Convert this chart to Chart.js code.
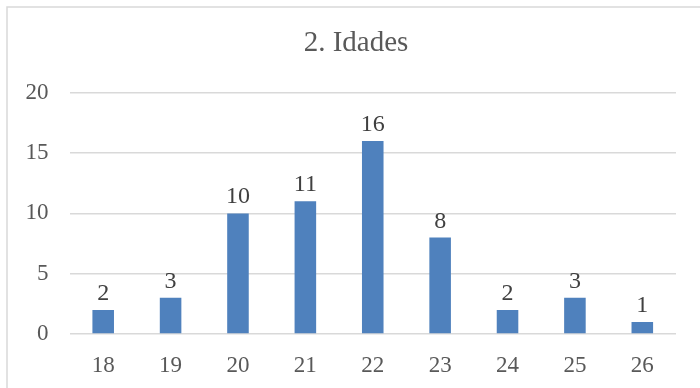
<!DOCTYPE html>
<html>
<head>
<meta charset="utf-8">
<script src="https://cdn.jsdelivr.net/npm/chart.js@4"></script>
<style>
  html, body { margin: 0; padding: 0; background: #ffffff; }
  #wrap { width: 700px; height: 388px; }
</style>
</head>
<body>
<div id="wrap"><canvas id="c" width="700" height="388"></canvas></div>
<script>
// Ages of respondents and how many people gave each one
const ages = ['18', '19', '20', '21', '22', '23', '24', '25', '26'];
const counts = [2, 3, 10, 11, 16, 8, 2, 3, 1];
const yTicks = [0, 5, 10, 15, 20];

const serif = '"Liberation Serif", "Times New Roman", serif';
Chart.defaults.font.family = serif;

// Thin frame around the chart, and the title centred on the full frame width
const framePlugin = {
  id: 'frame',
  afterLayout(chart) {
    const t = chart.titleBlock;
    if (t) { t.left = 36; t.right = 676; }
  },
  beforeDraw(chart) {
    const ctx = chart.ctx;
    ctx.save();
    ctx.fillStyle = '#ffffff';
    ctx.fillRect(0, 0, chart.width, chart.height);
    ctx.strokeStyle = '#d9d9d9';
    ctx.lineWidth = 1.5;
    ctx.strokeRect(7, 7, chart.width + 10, chart.height + 10);
    ctx.restore();
  }
};

// Value printed above each bar
const valueLabels = {
  id: 'valueLabels',
  afterDatasetsDraw(chart) {
    const ctx = chart.ctx;
    const meta = chart.getDatasetMeta(0);
    ctx.save();
    ctx.font = '24px ' + serif;
    ctx.fillStyle = '#404040';
    ctx.textAlign = 'center';
    ctx.textBaseline = 'alphabetic';
    meta.data.forEach((bar, i) => {
      ctx.fillText(String(counts[i]), bar.x, bar.y - 10);
    });
    ctx.restore();
  }
};

new Chart(document.getElementById('c'), {
  type: 'bar',
  data: {
    labels: ages,
    datasets: [{
      data: counts,
      backgroundColor: '#4f81bd',
      borderWidth: 0,
      categoryPercentage: 1,
      barPercentage: 0.32
    }]
  },
  options: {
    responsive: false,
    animation: false,
    devicePixelRatio: 1,
    layout: { padding: { left: 0, right: 24, top: 0, bottom: 0 } },
    plugins: {
      legend: { display: false },
      tooltip: { enabled: false },
      title: {
        display: true,
        text: '2. Idades',
        color: '#595959',
        font: { family: serif, size: 29, weight: 'normal' },
        padding: { top: 26, bottom: 32 }
      }
    },
    scales: {
      x: {
        grid: { display: false },
        border: { display: false },
        ticks: {
          color: '#595959',
          font: { family: serif, size: 23 },
          padding: 10
        },
        afterFit(scale) { scale.height = 54; }
      },
      y: {
        min: 0,
        max: 20,
        afterBuildTicks(scale) { scale.ticks = yTicks.map(v => ({ value: v })); },
        grid: { color: '#d9d9d9', lineWidth: 1.5, drawTicks: false },
        border: { display: false },
        ticks: {
          color: '#595959',
          font: { family: serif, size: 23 },
          padding: 21
        },
        afterFit(scale) { scale.width = 69.5; }
      }
    }
  },
  plugins: [framePlugin, valueLabels]
});
</script>
</body>
</html>
